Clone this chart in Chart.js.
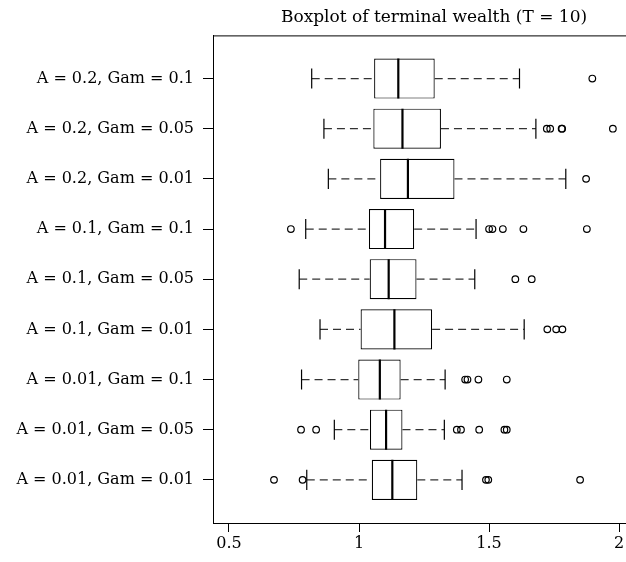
<!DOCTYPE html>
<html>
<head>
<meta charset="utf-8">
<script src="https://cdn.jsdelivr.net/npm/chart.js@4/dist/chart.umd.min.js"></script>
<style>
  html, body { margin: 0; padding: 0; background: #fff; overflow: hidden; }
  #wrap { position: relative; width: 660px; height: 562px; }
</style>
</head>
<body>
<div id="wrap"><canvas id="c"></canvas></div>
<script>
const titleText = 'Boxplot of terminal wealth (T = 10)';
const categories = [
  'A = 0.2, Gam = 0.1', 'A = 0.2, Gam = 0.05', 'A = 0.2, Gam = 0.01',
  'A = 0.1, Gam = 0.1', 'A = 0.1, Gam = 0.05', 'A = 0.1, Gam = 0.01',
  'A = 0.01, Gam = 0.1', 'A = 0.01, Gam = 0.05', 'A = 0.01, Gam = 0.01'
];
const whiskerLow  = [0.818, 0.865, 0.882, 0.795, 0.770, 0.850, 0.779, 0.905, 0.799];
const q1          = [1.058, 1.055, 1.081, 1.038, 1.041, 1.006, 0.997, 1.042, 1.049];
const median      = [1.151, 1.167, 1.188, 1.100, 1.114, 1.136, 1.080, 1.104, 1.128];
const q3          = [1.291, 1.315, 1.367, 1.212, 1.221, 1.281, 1.160, 1.167, 1.224];
const whiskerHigh = [1.617, 1.680, 1.795, 1.450, 1.445, 1.635, 1.331, 1.328, 1.396];
const outliers = [
  [1.897],
  [1.722, 1.735, 1.779, 1.781, 1.976],
  [1.873],
  [0.738, 1.500, 1.513, 1.553, 1.632, 1.876],
  [1.601, 1.664],
  [1.724, 1.758, 1.782],
  [1.408, 1.417, 1.459, 1.568],
  [0.777, 0.835, 1.376, 1.392, 1.462, 1.559, 1.568],
  [0.673, 0.783, 1.488, 1.497, 1.850]
];
const xTicks = [0.5, 1, 1.5, 2];
const xTickLabels = ['0.5', '1', '1.5', '2'];

// styling constants
const FONT = "'DejaVu Serif', 'Liberation Serif', serif";
const BOX_HALF = 0.4;    // half of box width, in category units
const STAPLE_HALF = 0.2; // half of staple length, in category units
const rowPos = categories.map((_, i) => i + 1);

const datasets = [];
// boxes
datasets.push({
  type: 'bar',
  indexAxis: 'y',
  data: rowPos.map((p, i) => ({ y: p, x: [q1[i], q3[i]] })),
  backgroundColor: '#ffffff',
  borderColor: '#000000',
  borderWidth: 1.2,
  borderSkipped: false,
  barPercentage: 0.8,
  categoryPercentage: 1.0,
  order: 3
});
const seg = (pts, extra) => Object.assign({
  type: 'line', data: pts, borderColor: '#000000', borderWidth: 1.2,
  pointRadius: 0, pointHoverRadius: 0, fill: false, tension: 0, showLine: true
}, extra);
rowPos.forEach((p, i) => {
  // dashed whiskers
  datasets.push(seg([{ x: whiskerLow[i], y: p }, { x: q1[i], y: p }], { borderDash: [8, 5], borderColor: '#333333', order: 4 }));
  datasets.push(seg([{ x: q3[i], y: p }, { x: whiskerHigh[i], y: p }], { borderDash: [8, 5], borderColor: '#333333', order: 4 }));
  // staples
  datasets.push(seg([{ x: whiskerLow[i], y: p - STAPLE_HALF }, { x: whiskerLow[i], y: p + STAPLE_HALF }], { order: 2 }));
  datasets.push(seg([{ x: whiskerHigh[i], y: p - STAPLE_HALF }, { x: whiskerHigh[i], y: p + STAPLE_HALF }], { order: 2 }));
  // median
  datasets.push(seg([{ x: median[i], y: p - BOX_HALF }, { x: median[i], y: p + BOX_HALF }], { borderWidth: 2.2, order: 1 }));
});
// outliers
datasets.push({
  type: 'scatter',
  data: outliers.flatMap((arr, i) => arr.map(v => ({ x: v, y: rowPos[i] }))),
  pointStyle: 'circle',
  pointRadius: 3.3,
  pointHoverRadius: 3.3,
  pointBackgroundColor: 'rgba(255,255,255,0)',
  pointBorderColor: '#000000',
  pointBorderWidth: 1.2,
  order: 0
});

const framePlugin = {
  id: 'frame',
  afterDraw(chart) {
    const { ctx, chartArea: a } = chart;
    ctx.save();
    ctx.strokeStyle = '#000';
    ctx.lineWidth = 1;
    ctx.beginPath();
    ctx.moveTo(a.left, a.top + 0.5);
    ctx.lineTo(a.right + 10, a.top + 0.5);
    ctx.stroke();
    ctx.restore();
  }
};

new Chart(document.getElementById('c'), {
  type: 'scatter',
  data: { datasets },
  options: {
    responsive: true,
    maintainAspectRatio: false,
    animation: false,
    events: [],
    layout: { padding: { left: 0, right: 5, top: 0, bottom: 0 } },
    plugins: {
      legend: { display: false },
      tooltip: { enabled: false },
      title: {
        display: true,
        text: titleText,
        fullSize: false,
        color: '#000',
        font: { family: FONT, size: 17, weight: 'normal' },
        padding: { top: 7, bottom: 8 }
      }
    },
    scales: {
      x: {
        type: 'linear',
        position: 'bottom',
        offset: false,
        beginAtZero: false,
        min: 0.4385,
        max: 2.138,
        afterBuildTicks: s => { s.ticks = xTicks.map(v => ({ value: v })); },
        afterFit: s => { s.height = 39; },
        ticks: {
          color: '#000',
          font: { family: FONT, size: 16 },
          padding: 2,
          maxRotation: 0,
          autoSkip: false,
          callback: (v, i) => xTickLabels[i]
        },
        grid: { offset: false, drawOnChartArea: false, drawTicks: true, tickLength: 9, color: '#000' },
        border: { display: true, color: '#000', width: 1 }
      },
      y: {
        type: 'linear',
        position: 'left',
        offset: false,
        beginAtZero: false,
        reverse: true,
        min: 0.14,
        max: 9.86,
        afterBuildTicks: s => { s.ticks = rowPos.map(v => ({ value: v })); },
        afterFit: s => { s.width = 213; },
        ticks: {
          color: '#000',
          font: { family: FONT, size: 16 },
          padding: 9,
          autoSkip: false,
          callback: (v, i) => categories[i]
        },
        grid: { offset: false, drawOnChartArea: false, drawTicks: true, tickLength: 10, color: '#000' },
        border: { display: true, color: '#000', width: 1 }
      }
    }
  },
  plugins: [framePlugin]
});
</script>
</body>
</html>
